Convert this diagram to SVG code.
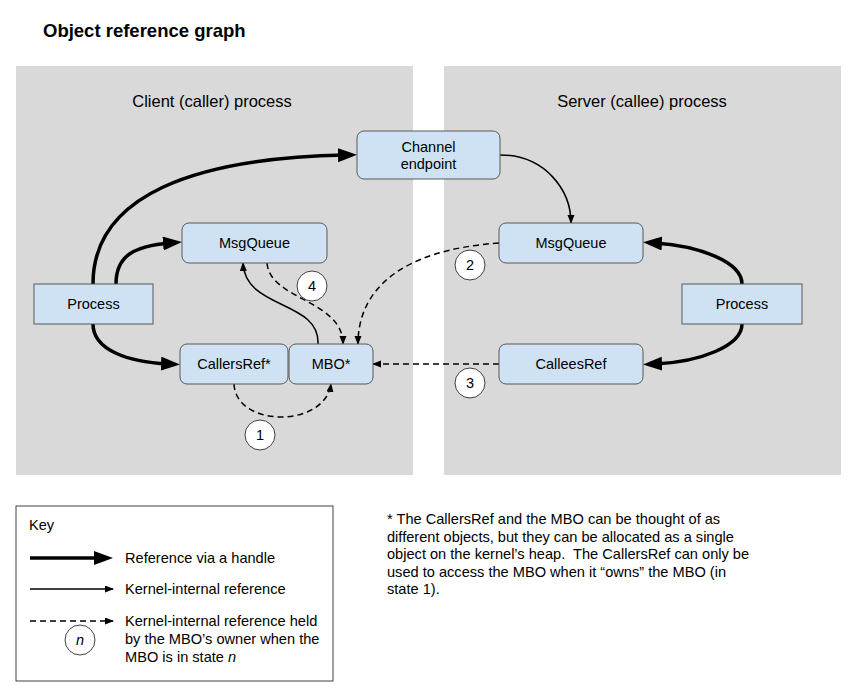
<svg xmlns="http://www.w3.org/2000/svg" width="854" height="699" viewBox="0 0 854 699">
<style>
text{font-family:"Liberation Sans",Arial,sans-serif;fill:#000}
.panel{fill:#d9d9d9}
.node{fill:#cfe2f3;stroke:#595959;stroke-width:1}
.lbl{font-size:14.5px;text-anchor:middle}
.ptitle{font-size:16.5px;text-anchor:middle}
.thick{fill:none;stroke:#000;stroke-width:3.5}
.thin{fill:none;stroke:#000;stroke-width:1.5}
.dash{fill:none;stroke:#000;stroke-width:1.5;stroke-dasharray:6 4}
.circ{fill:#fff;stroke:#404040;stroke-width:1}
.kt{font-size:14.6px}
</style>
<defs>
<marker id="big" markerUnits="userSpaceOnUse" markerWidth="19" markerHeight="15" refX="7" refY="7" orient="auto"><path d="M0,0 L19,7 L0,14 z" fill="#000"/></marker>
<marker id="small" markerUnits="userSpaceOnUse" markerWidth="9" markerHeight="8" refX="8" refY="3.5" orient="auto"><path d="M0,0 L9,3.5 L0,7 z" fill="#000"/></marker>
</defs>
<rect width="854" height="699" fill="#fff"/>
<text x="43" y="37" style="font-size:18.5px;font-weight:bold">Object reference graph</text>
<g id="client-panel"><rect class="panel" x="16" y="66" width="397" height="409"/><text class="ptitle" x="212" y="107">Client (caller) process</text></g>
<g id="server-panel"><rect class="panel" x="444" y="66" width="397" height="409"/><text class="ptitle" x="642" y="107">Server (callee) process</text></g>
<g id="connectors">
<path class="thick" d="M93,284 C93,195 195,158 345,155" marker-end="url(#big)"/>
<path class="thick" d="M116,284 C116,255 135,246 170,243" marker-end="url(#big)"/>
<path class="thick" d="M93,324 C93,350 128,362 168,364" marker-end="url(#big)"/>
<path class="thick" d="M742,284 C742,262 700,246 655,243" marker-end="url(#big)"/>
<path class="thick" d="M742,324 C742,346 700,362 655,364" marker-end="url(#big)"/>
<path class="thin" d="M500,155 C545,155 571,190 571,223" marker-end="url(#small)"/>
<path class="thin" d="M318,344 C320,300 245,310 243,263" marker-end="url(#small)"/>
<path class="dash" d="M267,263 C270,300 343,300 343,344" marker-end="url(#small)"/>
<path class="dash" d="M499,243 C400,250 358,290 358,344" marker-end="url(#small)"/>
<path class="dash" d="M499,364 L373,364" marker-end="url(#small)"/>
<path class="dash" d="M234,384 C236,428 325,428 331,384" marker-end="url(#small)"/>
</g>
<g id="channel-endpoint"><rect class="node" x="357" y="131" width="143" height="48" rx="7"/><text class="lbl" x="428.5" y="152">Channel</text><text class="lbl" x="428.5" y="169">endpoint</text></g>
<g id="client-msgqueue"><rect class="node" x="182" y="223" width="145" height="40" rx="7"/><text class="lbl" x="254.5" y="248">MsgQueue</text></g>
<g id="client-process"><rect class="node" x="34" y="284" width="119" height="40"/><text class="lbl" x="93.5" y="309">Process</text></g>
<g id="callersref"><rect class="node" x="180" y="344" width="108" height="40" rx="7"/><text class="lbl" x="234" y="369">CallersRef*</text></g>
<g id="mbo"><rect class="node" x="289" y="344" width="84" height="40" rx="7"/><text class="lbl" x="331" y="369">MBO*</text></g>
<g id="server-msgqueue"><rect class="node" x="499" y="223" width="144" height="40" rx="7"/><text class="lbl" x="571" y="248">MsgQueue</text></g>
<g id="server-process"><rect class="node" x="682" y="284" width="120" height="40"/><text class="lbl" x="742" y="309">Process</text></g>
<g id="calleesref"><rect class="node" x="499" y="344" width="144" height="40" rx="7"/><text class="lbl" x="571" y="369">CalleesRef</text></g>
<g id="state-1"><circle class="circ" cx="260" cy="435" r="15"/><text class="lbl" x="260" y="440">1</text></g>
<g id="state-2"><circle class="circ" cx="470" cy="265" r="15"/><text class="lbl" x="470" y="270">2</text></g>
<g id="state-3"><circle class="circ" cx="470" cy="383" r="15"/><text class="lbl" x="470" y="388">3</text></g>
<g id="state-4"><circle class="circ" cx="312" cy="286" r="15"/><text class="lbl" x="312" y="291">4</text></g>
<g id="key">
<rect x="16" y="506" width="317" height="175" fill="#fff" stroke="#404040" stroke-width="1"/>
<text class="kt" x="29" y="530">Key</text>
<path class="thick" d="M30,558 L101,558" marker-end="url(#big)"/>
<text class="kt" x="125" y="563">Reference via a handle</text>
<path class="thin" d="M30,589 L113,589" marker-end="url(#small)"/>
<text class="kt" x="125" y="594">Kernel-internal reference</text>
<path class="dash" d="M30,621 L113,621" marker-end="url(#small)"/>
<text class="kt" x="125" y="626">Kernel-internal reference held</text>
<text class="kt" x="125" y="644">by the MBO’s owner when the</text>
<text class="kt" x="125" y="662">MBO is in state <tspan font-style="italic">n</tspan></text>
<circle class="circ" cx="80" cy="640" r="15"/>
<text class="lbl" x="80" y="645" font-style="italic">n</text>
</g>
<g id="footnote">
<text class="kt" x="387" y="524">* The CallersRef and the MBO can be thought of as</text>
<text class="kt" x="387" y="541.5">different objects, but they can be allocated as a single</text>
<text class="kt" x="387" y="559" xml:space="preserve">object on the kernel’s heap.  The CallersRef can only be</text>
<text class="kt" x="387" y="576.5">used to access the MBO when it “owns” the MBO (in</text>
<text class="kt" x="387" y="594">state 1).</text>
</g>
</svg>
